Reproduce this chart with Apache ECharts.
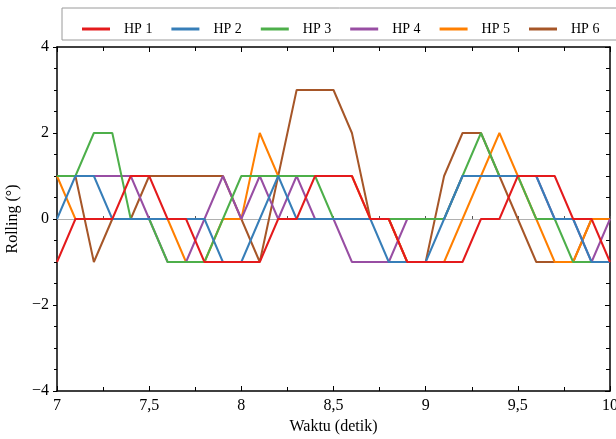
<!DOCTYPE html>
<html>
<head>
<meta charset="utf-8">
<script src="https://cdn.jsdelivr.net/npm/echarts@6/dist/echarts.min.js"></script>
<style>
  html, body { margin: 0; padding: 0; background: #fff; }
  #chart { width: 616px; height: 439px; }
</style>
</head>
<body>
<div id="chart"></div>
<script>
// Sample times (seconds)
const times = [7.0, 7.1, 7.2, 7.3, 7.4, 7.5, 7.6, 7.7, 7.8, 7.9,
               8.0, 8.1, 8.2, 8.3, 8.4, 8.5, 8.6, 8.7, 8.8, 8.9,
               9.0, 9.1, 9.2, 9.3, 9.4, 9.5, 9.6, 9.7, 9.8, 9.9, 10.0];

// Rolling angle (degrees) per handphone
const hp1 = [-1, 0, 0, 0, 1, 1, 0, 0, -1, -1, -1, -1, 0, 0, 1, 1, 1, 0, 0, -1, -1, -1, -1, 0, 0, 1, 1, 1, 0, 0, -1];
const hp2 = [0, 1, 1, 0, 0, 0, 0, 0, 0, -1, -1, 0, 1, 0, 0, 0, 0, 0, -1, -1, -1, 0, 1, 1, 1, 1, 1, 0, 0, -1, -1];
const hp3 = [1, 1, 2, 2, 0, 0, -1, -1, -1, 0, 1, 1, 1, 1, 1, 0, 0, 0, 0, 0, 0, 0, 1, 2, 1, 1, 0, 0, -1, -1, -1];
const hp4 = [1, 1, 1, 1, 1, 0, -1, -1, 0, 1, 0, 1, 0, 1, 0, 0, -1, -1, -1, 0, 0, 0, 1, 1, 1, 1, 1, 0, 0, -1, 0];
const hp5 = [1, 0, 0, 0, 0, 0, 0, -1, -1, 0, 0, 2, 1, 1, 1, 1, 1, 0, 0, -1, -1, -1, 0, 1, 2, 1, 0, -1, -1, 0, 0];
const hp6 = [1, 1, -1, 0, 0, 1, 1, 1, 1, 1, 0, -1, 1, 3, 3, 3, 2, 0, 0, -1, -1, 1, 2, 2, 1, 0, -1, -1, -1, 0, 0];

const seriesNames = ['HP 1', 'HP 2', 'HP 3', 'HP 4', 'HP 5', 'HP 6'];
const seriesValues = [hp1, hp2, hp3, hp4, hp5, hp6];
const colors = ['#e41a1c', '#377eb8', '#4daf4a', '#984ea3', '#ff7f00', '#a65628'];

const FONT = '"Liberation Serif", "Times New Roman", serif';

const chart = echarts.init(document.getElementById('chart'), null, { renderer: 'canvas' });

const frameLine = { show: true, onZero: false, lineStyle: { color: '#000', width: 1.5 } };
const xFmt = v => String(v).replace('.', ',');
const yFmt = v => (v < 0 ? '\u2212' + Math.abs(v) : String(v));

const xBase = { type: 'value', min: 7, max: 10, interval: 0.5, splitLine: { show: false } };
const yBase = { type: 'value', min: -4, max: 4, interval: 2, splitLine: { show: false } };

const option = {
  animation: false,
  backgroundColor: '#fff',
  color: colors,
  grid: { left: 57, right: 6, top: 47, bottom: 48, containLabel: false, outerBoundsMode: 'none' },
  graphic: [{
    type: 'rect',
    shape: { x: 62, y: 8, width: 570, height: 32 },
    style: { fill: '#fff', stroke: '#9a9a9a', lineWidth: 1 },
    z: -1
  }],
  legend: {
    left: 77, top: 17, width: 580,
    orient: 'horizontal',
    icon: 'rect', itemWidth: 28, itemHeight: 3, itemGap: 19,
    textStyle: { fontFamily: FONT, fontSize: 14, color: '#000', padding: [0, 0, 0, 9] },
    data: seriesNames
  },
  xAxis: [
    Object.assign({}, xBase, {
      position: 'bottom',
      name: 'Waktu (detik)', nameLocation: 'middle', nameGap: 27,
      nameTextStyle: { fontFamily: FONT, fontSize: 16, color: '#000' },
      axisLine: frameLine,
      axisTick: { show: true, inside: true, length: 5, lineStyle: { color: '#000', width: 1 } },
      minorTick: { show: true, splitNumber: 2, length: 4, lineStyle: { color: '#000', width: 1 } },
      axisLabel: { fontFamily: FONT, fontSize: 16, color: '#000', margin: 7, formatter: xFmt }
    }),
    Object.assign({}, xBase, {
      position: 'top',
      axisLine: frameLine,
      axisTick: { show: true, inside: true, length: 5, lineStyle: { color: '#000', width: 1 } },
      minorTick: { show: true, splitNumber: 2, length: 4, lineStyle: { color: '#000', width: 1 } },
      axisLabel: { show: false }
    }),
    Object.assign({}, xBase, {
      // zero reference line
      position: 'bottom',
      axisLine: { show: true, onZero: true, onZeroAxisIndex: 0, lineStyle: { color: '#b0b0b0', width: 1 } },
      axisTick: { show: true, inside: true, length: 3, lineStyle: { color: '#555', width: 1 } },
      minorTick: { show: true, splitNumber: 2, length: 3, lineStyle: { color: '#555', width: 1 } },
      axisLabel: { show: false }
    })
  ],
  yAxis: [
    Object.assign({}, yBase, {
      position: 'left',
      name: 'Rolling (°)', nameLocation: 'middle', nameGap: 35, nameRotate: 90,
      nameTextStyle: { fontFamily: FONT, fontSize: 16, color: '#000' },
      axisLine: frameLine,
      axisTick: { show: true, inside: false, length: 4, lineStyle: { color: '#000', width: 1 } },
      minorTick: { show: true, splitNumber: 4, length: 3, lineStyle: { color: '#000', width: 1 } },
      axisLabel: { fontFamily: FONT, fontSize: 16, color: '#000', margin: 8, formatter: yFmt }
    }),
    Object.assign({}, yBase, {
      position: 'right',
      axisLine: frameLine,
      axisTick: { show: true, inside: true, length: 5, lineStyle: { color: '#000', width: 1 } },
      minorTick: { show: true, splitNumber: 4, length: 4, lineStyle: { color: '#000', width: 1 } },
      axisLabel: { show: false }
    })
  ],
  series: seriesNames.map((name, i) => ({
    name: name,
    type: 'line',
    xAxisIndex: 0,
    yAxisIndex: 0,
    data: times.map((t, k) => [t, seriesValues[i][k]]),
    showSymbol: false,
    symbol: 'none',
    lineStyle: { width: 2, color: colors[i] },
    itemStyle: { color: colors[i] },
    // first handphone drawn on top
    z: 10 - i
  }))
};

chart.setOption(option);
</script>
</body>
</html>
